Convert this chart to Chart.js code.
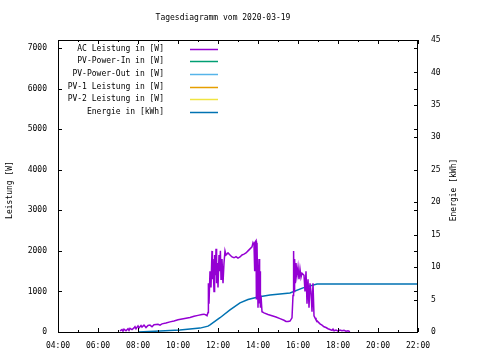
<!DOCTYPE html>
<html>
<head>
<meta charset="utf-8">
<script src="https://cdn.jsdelivr.net/npm/chart.js@4.4.1/dist/chart.umd.min.js"></script>
<style>
  html, body { margin: 0; padding: 0; background: #fff; }
  #wrap { width: 480px; height: 360px; }
</style>
</head>
<body>
<div id="wrap"><canvas id="chart" width="480" height="360"></canvas></div>
<script>
// Tageswerte (Zeit in Stunden, Leistung in W, Energie in kWh)
const acTime = [7.10, 7.2, 7.25, 7.3, 7.4, 7.5, 7.55, 7.6, 7.7, 7.8, 7.85, 7.9, 8.0, 8.05, 8.15, 8.2, 8.3, 8.4, 8.5, 8.6, 8.7, 8.8, 9.0, 9.1, 9.2, 9.4, 9.6, 9.8, 10.0, 10.2, 10.4, 10.6, 10.8, 11.0, 11.2, 11.3, 11.4, 11.45, 11.5, 11.52, 11.55, 11.6, 11.65, 11.7, 11.72, 11.75, 11.8, 11.83, 11.87, 11.9, 11.93, 11.97, 12.0, 12.05, 12.08, 12.12, 12.15, 12.2, 12.25, 12.3, 12.35, 12.4, 12.5, 12.6, 12.7, 12.8, 12.9, 13.0, 13.1, 13.2, 13.3, 13.4, 13.5, 13.6, 13.7, 13.75, 13.8, 13.82, 13.85, 13.9, 13.92, 13.95, 14.0, 14.05, 14.08, 14.1, 14.12, 14.15, 14.2, 14.3, 14.5, 14.7, 14.9, 15.1, 15.3, 15.4, 15.5, 15.6, 15.7, 15.75, 15.78, 15.8, 15.83, 15.87, 15.9, 15.95, 16.0, 16.05, 16.1, 16.15, 16.2, 16.3, 16.35, 16.4, 16.45, 16.5, 16.55, 16.6, 16.65, 16.7, 16.75, 16.8, 16.85, 16.9, 17.0, 17.1, 17.2, 17.3, 17.4, 17.5, 17.6, 17.7, 17.75, 17.8, 17.9, 18.0, 18.1, 18.2, 18.3, 18.4, 18.5, 18.6];
const acPower = [30, 60, 20, 70, 30, 80, 40, 90, 60, 100, 130, 80, 150, 100, 160, 120, 170, 110, 160, 170, 130, 180, 190, 170, 200, 220, 250, 270, 300, 320, 340, 360, 390, 410, 430, 440, 420, 400, 480, 1200, 700, 1500, 1100, 2000, 1300, 1800, 1000, 1900, 1400, 2050, 1200, 1700, 1100, 1900, 1500, 2000, 1300, 1800, 1200, 1700, 2000, 1900, 1950, 1900, 1850, 1830, 1860, 1820, 1850, 1900, 1920, 1950, 2000, 2050, 2100, 2200, 2150, 1500, 2200, 2250, 800, 2200, 600, 1800, 700, 1500, 600, 900, 500, 470, 430, 400, 370, 330, 290, 260, 260, 270, 350, 900, 2000, 1000, 1800, 1200, 1700, 1400, 1600, 1300, 1550, 1350, 1450, 1400, 1000, 1500, 700, 1300, 600, 1200, 1000, 500, 1200, 400, 350, 300, 250, 200, 170, 130, 110, 80, 60, 40, 70, 30, 50, 20, 50, 30, 40, 20, 30, 10];

const energyTime = [8.0, 9.1, 10.1, 11.1, 11.5, 11.6, 12.1, 12.6, 13.1, 13.5, 14.0, 14.6, 15.6, 16.25, 16.95, 22.0];
const energyKWh = [0, 0.15, 0.3, 0.6, 0.9, 1.1, 2.2, 3.4, 4.5, 5.0, 5.4, 5.7, 6.0, 6.8, 7.4, 7.4];

const xTicks = [4, 6, 8, 10, 12, 14, 16, 18, 20, 22];
const yTicks = [0, 1000, 2000, 3000, 4000, 5000, 6000, 7000];
const y2Ticks = [0, 5, 10, 15, 20, 25, 30, 35, 40, 45];

const FONT = '8px "DejaVu Sans Mono", monospace';
const tickFont = { family: '"DejaVu Sans Mono", monospace', size: 8 };

function pts(xs, ys) {
  return xs.map((x, i) => ({ x: x, y: ys[i] }));
}

// Rahmen, Ticks nach innen, Titel, Achsentitel und Legende im gnuplot-Stil
const gnuplotStyle = {
  id: 'gnuplotStyle',
  afterDraw(chart) {
    const ctx = chart.ctx;
    const a = chart.chartArea;
    const sx = chart.scales.x, sy = chart.scales.y, sy2 = chart.scales.y2;
    ctx.save();
    ctx.strokeStyle = '#000';
    ctx.lineWidth = 1;
    ctx.strokeRect(Math.round(a.left) + 0.5, Math.round(a.top) + 0.5,
      Math.round(a.right - a.left) - 1, Math.round(a.bottom - a.top));

    ctx.beginPath();
    for (let h = 4; h <= 22; h++) {
      const px = Math.round(sx.getPixelForValue(h)) + 0.5;
      const len = h % 2 === 0 ? 4 : 2;
      ctx.moveTo(px, a.bottom); ctx.lineTo(px, a.bottom - len);
      ctx.moveTo(px, a.top); ctx.lineTo(px, a.top + len);
    }
    yTicks.forEach(v => {
      const py = Math.round(sy.getPixelForValue(v)) + 0.5;
      ctx.moveTo(a.left, py); ctx.lineTo(a.left + 4, py);
      ctx.moveTo(a.right, py); ctx.lineTo(a.right - 4, py);
    });
    y2Ticks.forEach(v => {
      const py = Math.round(sy2.getPixelForValue(v)) + 0.5;
      ctx.moveTo(a.right, py); ctx.lineTo(a.right - 4, py);
    });
    ctx.stroke();

    ctx.fillStyle = '#000';
    ctx.font = FONT;
    ctx.textBaseline = 'middle';
    ctx.textAlign = 'center';
    ctx.fillText('Tagesdiagramm vom 2020-03-19', 223, 18);

    ctx.save();
    ctx.translate(10, 190);
    ctx.rotate(-Math.PI / 2);
    ctx.fillText('Leistung [W]', 0, 0);
    ctx.restore();
    ctx.save();
    ctx.translate(454, 190);
    ctx.rotate(-Math.PI / 2);
    ctx.fillText('Energie [kWh]', 0, 0);
    ctx.restore();

    // Legende
    ctx.textAlign = 'right';
    chart.data.datasets.forEach((ds, i) => {
      const y = 48.5 + i * 12.7;
      ctx.fillStyle = '#000';
      ctx.fillText(ds.label, 164, y);
      ctx.strokeStyle = ds.borderColor;
      ctx.lineWidth = 1.5;
      ctx.beginPath();
      ctx.moveTo(190, Math.round(y) + 0.5);
      ctx.lineTo(218, Math.round(y) + 0.5);
      ctx.stroke();
    });
    ctx.restore();
  }
};

new Chart(document.getElementById('chart'), {
  type: 'line',
  data: {
    datasets: [
      { label: 'AC Leistung in [W]', data: pts(acTime, acPower), borderColor: '#9400d3', yAxisID: 'y', borderWidth: 1.5 },
      { label: 'PV-Power-In in [W]', data: [], borderColor: '#009e73', yAxisID: 'y' },
      { label: 'PV-Power-Out in [W]', data: [], borderColor: '#56b4e9', yAxisID: 'y' },
      { label: 'PV-1 Leistung in [W]', data: [], borderColor: '#e69f00', yAxisID: 'y' },
      { label: 'PV-2 Leistung in [W]', data: [], borderColor: '#f0e442', yAxisID: 'y' },
      { label: 'Energie in [kWh]', data: pts(energyTime, energyKWh), borderColor: '#0072b2', yAxisID: 'y2', borderWidth: 1.5 }
    ]
  },
  options: {
    responsive: false,
    animation: false,
    devicePixelRatio: 1,
    layout: { padding: { top: 40, left: 0, right: 0, bottom: 0 } },
    elements: { point: { radius: 0 }, line: { tension: 0, borderWidth: 1 } },
    plugins: { legend: { display: false }, title: { display: false }, tooltip: { enabled: false } },
    scales: {
      x: {
        type: 'linear', min: 4, max: 22,
        grid: { display: false, drawTicks: false },
        border: { display: false },
        afterBuildTicks: s => { s.ticks = xTicks.map(v => ({ value: v })); },
        afterFit: s => { s.height = 28; },
        ticks: {
          padding: 9, color: '#000', maxRotation: 0, autoSkip: false, font: tickFont,
          callback: v => String(v).padStart(2, '0') + ':00'
        }
      },
      y: {
        position: 'left', min: 0, max: 7200,
        grid: { display: false, drawTicks: false },
        border: { display: false },
        afterBuildTicks: s => { s.ticks = yTicks.map(v => ({ value: v })); },
        afterFit: s => { s.width = 58; },
        ticks: { padding: 11, color: '#000', font: tickFont, callback: v => String(v) }
      },
      y2: {
        position: 'right', min: 0, max: 45,
        grid: { display: false, drawTicks: false },
        border: { display: false },
        afterBuildTicks: s => { s.ticks = y2Ticks.map(v => ({ value: v })); },
        afterFit: s => { s.width = 62; },
        ticks: { padding: 13, color: '#000', font: tickFont, callback: v => String(v) }
      }
    }
  },
  plugins: [gnuplotStyle]
});
</script>
</body>
</html>
